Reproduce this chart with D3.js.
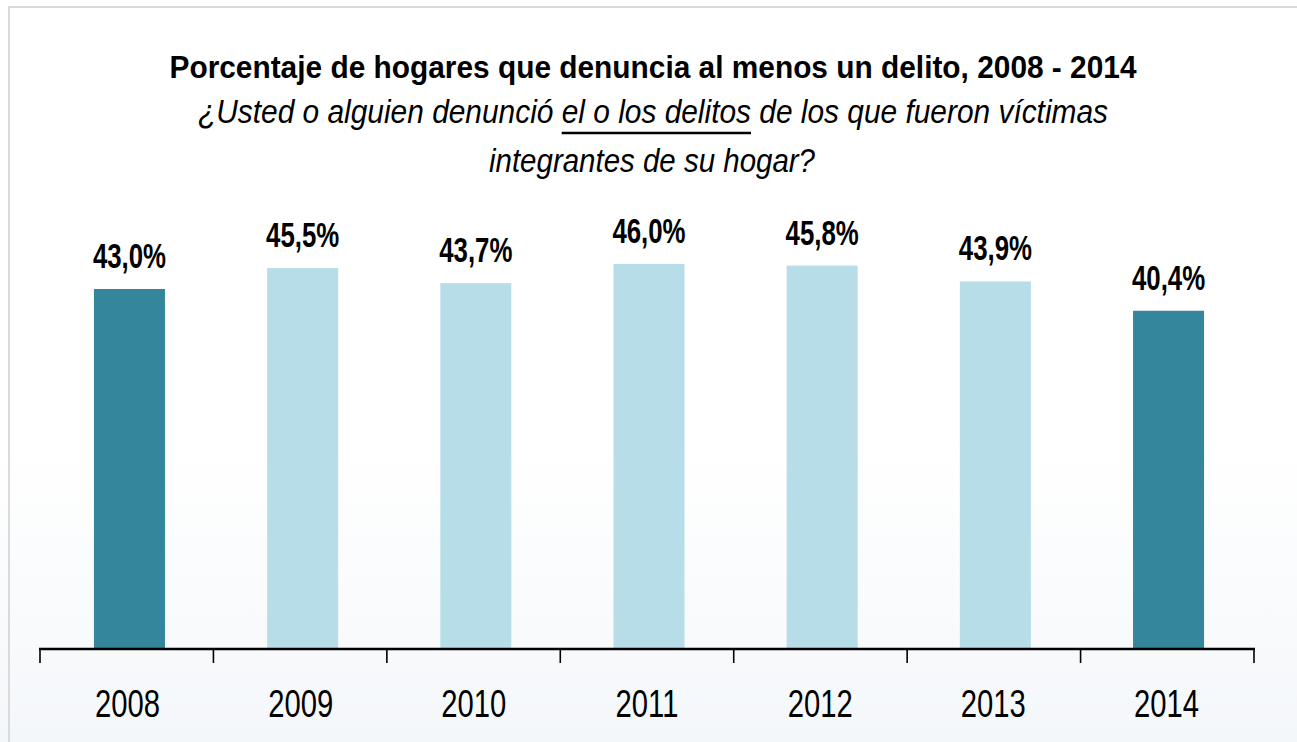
<!DOCTYPE html>
<html>
<head>
<meta charset="utf-8">
<script src="https://cdn.jsdelivr.net/npm/d3@7"></script>
<style>
  body { margin: 0; background: #fff; }
  svg { display: block; }
  text { font-family: "Liberation Sans", Arial, sans-serif; }
</style>
</head>
<body>
<svg id="chart" width="1297" height="742"></svg>
<script>
// data
const years = ["2008", "2009", "2010", "2011", "2012", "2013", "2014"];
const values = [43.0, 45.5, 43.7, 46.0, 45.8, 43.9, 40.4];
const labels = ["43,0%", "45,5%", "43,7%", "46,0%", "45,8%", "43,9%", "40,4%"];
const highlight = ["2008", "2014"];

const svg = d3.select("#chart");
const W = 1297, H = 742;

// faint background towards the bottom
const defs = svg.append("defs");
const grad = defs.append("linearGradient").attr("id", "bg")
    .attr("x1", 0).attr("y1", 0).attr("x2", 0).attr("y2", 1);
grad.append("stop").attr("offset", "0%").attr("stop-color", "#ffffff");
grad.append("stop").attr("offset", "60%").attr("stop-color", "#ffffff");
grad.append("stop").attr("offset", "100%").attr("stop-color", "#f4f7fa");
svg.append("rect").attr("x", 0).attr("y", 0).attr("width", W).attr("height", H)
    .attr("fill", "url(#bg)");

// frame
svg.append("path")
    .attr("d", `M9,${H} L9,7 L${W},7`)
    .attr("fill", "none")
    .attr("stroke", "#dadada")
    .attr("stroke-width", 2);

const base = 649;
const x = d3.scaleBand().domain(years).range([40, 1254])
    .paddingInner(0.59).paddingOuter(0.3);
const y = d3.scaleLinear().domain([0, 43]).range([base, 289]);

// title
svg.append("text")
    .attr("x", 653).attr("y", 78)
    .attr("text-anchor", "middle")
    .attr("font-weight", "bold")
    .attr("font-size", 32)
    .attr("textLength", 967).attr("lengthAdjust", "spacingAndGlyphs")
    .text("Porcentaje de hogares que denuncia al menos un delito, 2008 - 2014");

const part1 = "¿Usted o alguien denunció ";
const part2 = "el o los delitos";
const part3 = " de los que fueron víctimas";
const sub = svg.append("text")
    .attr("x", 653).attr("y", 123)
    .attr("text-anchor", "middle")
    .attr("font-style", "italic")
    .attr("font-size", 33)
    .attr("textLength", 910).attr("lengthAdjust", "spacingAndGlyphs")
    .text(part1 + part2 + part3);

// underline under "el o los delitos"
const subNode = sub.node();
const u0 = subNode.getStartPositionOfChar(part1.length).x;
const u1 = subNode.getEndPositionOfChar(part1.length + part2.length - 1).x;
svg.append("line")
    .attr("x1", u0).attr("x2", u1)
    .attr("y1", 133).attr("y2", 133)
    .attr("stroke", "#000").attr("stroke-width", 2.5);

svg.append("text")
    .attr("x", 652).attr("y", 172)
    .attr("text-anchor", "middle")
    .attr("font-style", "italic")
    .attr("font-size", 33)
    .attr("textLength", 326).attr("lengthAdjust", "spacingAndGlyphs")
    .text("integrantes de su hogar?");

// bars
svg.append("g").selectAll("rect")
    .data(years)
    .join("rect")
    .attr("x", d => x(d) + 2)
    .attr("y", (d, i) => y(values[i]))
    .attr("width", x.bandwidth())
    .attr("height", (d, i) => base - y(values[i]))
    .attr("fill", d => highlight.includes(d) ? "#33869b" : "#b7dee8");

// value labels (narrow, tall look)
svg.append("g").selectAll("text")
    .data(years)
    .join("text")
    .attr("text-anchor", "middle")
    .attr("font-weight", "bold")
    .attr("font-size", 30)
    .attr("transform", (d, i) => `translate(${x(d) + 2 + x.bandwidth() / 2},${y(values[i]) - 21}) scale(0.86,1.2)`)
    .text((d, i) => labels[i]);

// axis
const axis = d3.axisBottom(x).tickSize(0).tickPadding(0);
const gx = svg.append("g").attr("transform", `translate(0,${base})`).call(axis);
gx.select(".domain").remove();
gx.selectAll(".tick text")
    .attr("font-family", null)
    .attr("font-size", 34)
    .attr("fill", "#000")
    .attr("dy", null)
    .attr("y", 0)
    .attr("transform", "translate(0,68) scale(0.86,1.13)");

const bounds = d3.range(years.length + 1).map(i => 40 + i * (1254 - 40) / years.length);
gx.selectAll(".bound")
    .data(bounds)
    .join("line")
    .attr("class", "bound")
    .attr("x1", d => d).attr("x2", d => d)
    .attr("y1", 0).attr("y2", 14)
    .attr("stroke", "#000").attr("stroke-width", 1.6);
gx.append("line")
    .attr("x1", 39).attr("x2", 1255).attr("y1", 0).attr("y2", 0)
    .attr("stroke", "#000").attr("stroke-width", 2.5);
</script>
</body>
</html>
